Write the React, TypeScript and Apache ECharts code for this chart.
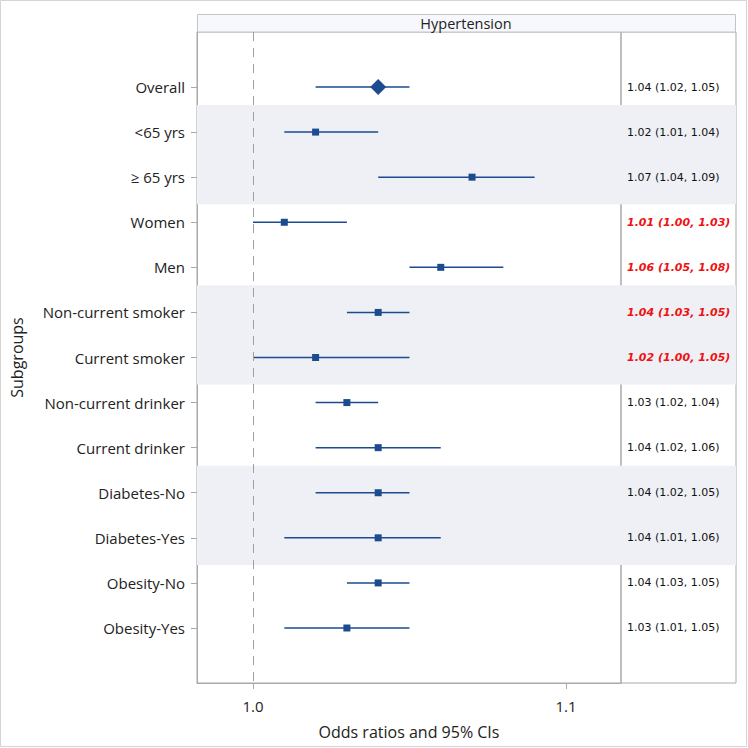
import React, { useEffect, useRef } from "react";
import * as echarts from "echarts";

const categories = [
  "Overall",
  "<65 yrs",
  "≥ 65 yrs",
  "Women",
  "Men",
  "Non-current smoker",
  "Current smoker",
  "Non-current drinker",
  "Current drinker",
  "Diabetes-No",
  "Diabetes-Yes",
  "Obesity-No",
  "Obesity-Yes",
];
const estimates = [1.04, 1.02, 1.07, 1.01, 1.06, 1.04, 1.02, 1.03, 1.04, 1.04, 1.04, 1.04, 1.03];
const lowerCI = [1.02, 1.01, 1.04, 1.0, 1.05, 1.03, 1.0, 1.02, 1.02, 1.02, 1.01, 1.03, 1.01];
const upperCI = [1.05, 1.04, 1.09, 1.03, 1.08, 1.05, 1.05, 1.04, 1.06, 1.05, 1.06, 1.05, 1.05];
const highlighted = [false, false, false, true, true, true, true, false, false, false, false, false, false];
const bandPairs = [
  [1, 2],
  [5, 6],
  [9, 10],
];
const xTicks = [1.0, 1.1];
const panelTitle = "Hypertension";

const BLUE = "#1c4b8f";
const FRAME = "#a9a9a9";
const BAND = "#eef0f5";
const Y_MIN = -1.22;
const Y_MAX = 13.22;

export default function App() {
  const ref = useRef<HTMLDivElement>(null);

  useEffect(() => {
    if (!ref.current) return;
    const chart = echarts.init(ref.current, undefined, { renderer: "svg" });

    const rows = categories.map((_, i) => [i, lowerCI[i], estimates[i], upperCI[i]]);
    const textRows = categories.map((_, i) => [0, i]);
    const bandData = bandPairs.map(([a, b]) => [{ yAxis: (a + b) / 2 - 1.1 }, { yAxis: (a + b) / 2 + 1.1 }]);

    const option: any = {
      animation: false,
      backgroundColor: "#ffffff",
      grid: [
        { left: 197, right: 127, top: 32, bottom: 65, show: true, borderColor: FRAME, borderWidth: 1 },
        { left: 621, right: 12, top: 32, bottom: 65, show: true, borderColor: FRAME, borderWidth: 1 },
      ],
      xAxis: [
        {
          type: "value",
          gridIndex: 0,
          min: 0.9821,
          max: 1.1176,
          name: "Odds ratios and 95% CIs",
          nameLocation: "middle",
          nameGap: 41,
          nameTextStyle: { fontFamily: "Open Sans", fontSize: 16, color: "#222" },
          axisLine: { show: true, onZero: false, lineStyle: { color: FRAME } },
          axisTick: { show: true, length: 6, customValues: xTicks, lineStyle: { color: FRAME } },
          axisLabel: {
            customValues: xTicks,
            margin: 15,
            fontFamily: "Open Sans",
            fontSize: 15,
            color: "#222",
            formatter: (v: number) => v.toFixed(1),
          },
          splitLine: { show: false },
        },
        { type: "value", gridIndex: 1, min: 0, max: 1, show: false },
      ],
      yAxis: [
        {
          type: "value",
          gridIndex: 0,
          min: Y_MIN,
          max: Y_MAX,
          inverse: true,
          name: "Subgroups",
          nameLocation: "middle",
          nameGap: 172,
          nameTextStyle: { fontFamily: "Open Sans", fontSize: 16, color: "#222" },
          axisLine: { show: true, onZero: false, lineStyle: { color: FRAME } },
          axisTick: {
            show: true,
            length: 6,
            customValues: categories.map((_, i) => i),
            lineStyle: { color: FRAME },
          },
          axisLabel: {
            customValues: categories.map((_, i) => i),
            margin: 12,
            fontFamily: "Open Sans",
            fontSize: 15,
            color: "#222",
            formatter: (v: number) => categories[Math.round(v)] ?? "",
          },
          splitLine: { show: false },
        },
        { type: "value", gridIndex: 1, min: Y_MIN, max: Y_MAX, inverse: true, show: false },
      ],
      graphic: [
        {
          type: "rect",
          shape: { x: 0.5, y: 0.5, width: 746, height: 746 },
          style: { fill: "none", stroke: "#d4d4d4", lineWidth: 1 },
          silent: true,
        },
        {
          type: "rect",
          shape: { x: 197.5, y: 14.5, width: 538, height: 17.5 },
          style: { fill: "#f7f8fd", stroke: "#c4c4c4", lineWidth: 1 },
          silent: true,
        },
        {
          type: "text",
          x: 466,
          y: 23,
          style: {
            text: panelTitle,
            fontFamily: "Open Sans",
            fontSize: 14.5,
            fill: "#222",
            align: "center",
            verticalAlign: "middle",
          },
          silent: true,
        },
      ],
      series: [
        {
          type: "line",
          xAxisIndex: 0,
          yAxisIndex: 0,
          data: [],
          z: 1,
          markArea: { silent: true, itemStyle: { color: BAND }, data: bandData },
        },
        {
          type: "line",
          xAxisIndex: 1,
          yAxisIndex: 1,
          data: [],
          z: 1,
          markArea: { silent: true, itemStyle: { color: BAND }, data: bandData },
        },
        {
          type: "custom",
          xAxisIndex: 0,
          yAxisIndex: 0,
          z: 3,
          encode: { x: [1, 2, 3], y: 0 },
          data: rows,
          markLine: {
            silent: true,
            symbol: "none",
            label: { show: false },
            lineStyle: { color: "#a0a0a0", type: [9, 7], width: 1 },
            data: [{ xAxis: 1.0 }],
          },
          renderItem: (params: any, api: any) => {
            const i = api.value(0);
            const lo = api.coord([api.value(1), i]);
            const est = api.coord([api.value(2), i]);
            const hi = api.coord([api.value(3), i]);
            const children: any[] = [
              {
                type: "line",
                shape: { x1: lo[0], y1: lo[1], x2: hi[0], y2: hi[1] },
                style: { stroke: BLUE, lineWidth: 1.5 },
              },
            ];
            if (i === 0) {
              const s = 8;
              children.push({
                type: "polygon",
                shape: {
                  points: [
                    [est[0], est[1] - s],
                    [est[0] + s, est[1]],
                    [est[0], est[1] + s],
                    [est[0] - s, est[1]],
                  ],
                },
                style: { fill: BLUE },
              });
            } else {
              children.push({
                type: "rect",
                shape: { x: est[0] - 3.5, y: est[1] - 3.5, width: 7, height: 7 },
                style: { fill: BLUE },
              });
            }
            return { type: "group", children };
          },
        },
        {
          type: "custom",
          xAxisIndex: 1,
          yAxisIndex: 1,
          z: 3,
          encode: { x: 0, y: 1 },
          data: textRows,
          renderItem: (params: any, api: any) => {
            const i = api.value(1);
            const p = api.coord([0, i]);
            const hl = highlighted[i];
            const text = `${estimates[i].toFixed(2)} (${lowerCI[i].toFixed(2)}, ${upperCI[i].toFixed(2)})`;
            return {
              type: "text",
              x: p[0] + 6,
              y: p[1],
              style: {
                text,
                fontFamily: "DejaVu Sans",
                fontSize: 11,
                fontStyle: hl ? "italic" : "normal",
                fontWeight: hl ? "bold" : "normal",
                fill: hl ? "#ee1111" : "#111",
                align: "left",
                verticalAlign: "middle",
              },
            };
          },
        },
      ],
    };

    chart.setOption(option);
    return () => chart.dispose();
  }, []);

  return (
    <div
      ref={ref}
      style={{ position: "fixed", left: 0, top: 0, width: 748, height: 748 }}
    />
  );
}
